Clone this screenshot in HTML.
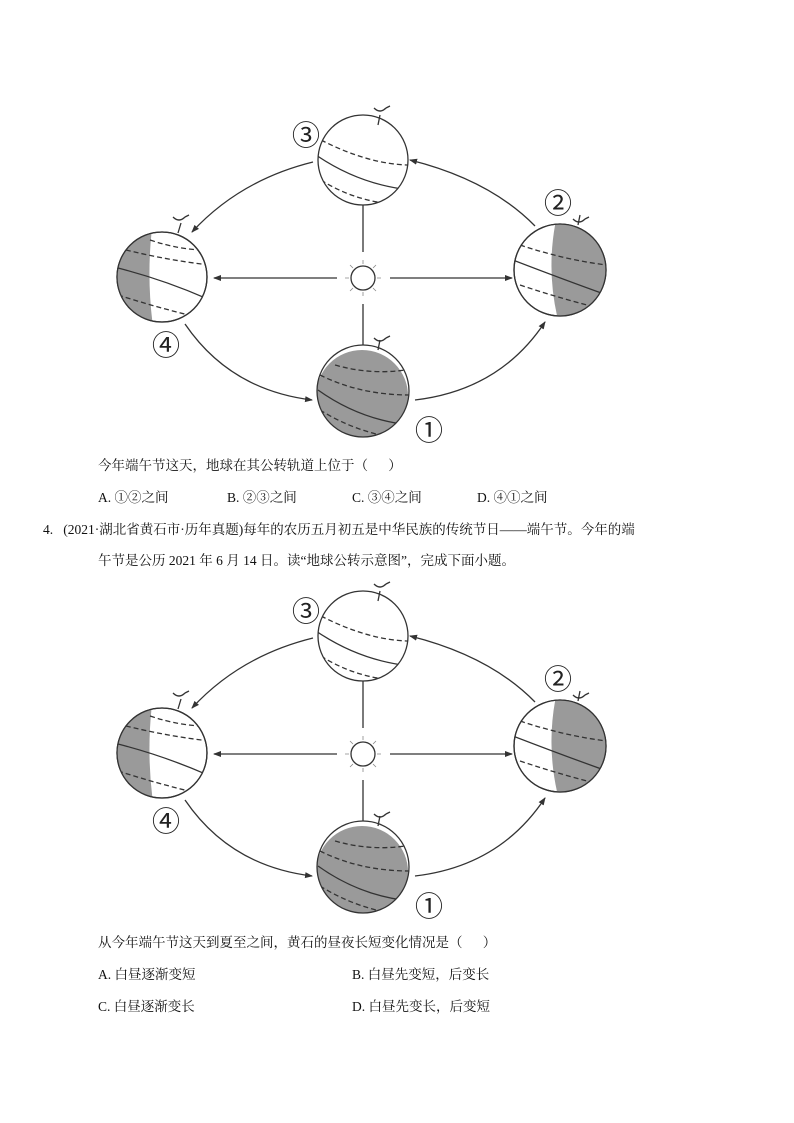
<!DOCTYPE html>
<html><head><meta charset="utf-8"><style>
body{margin:0;background:#fff;}
#p{position:relative;width:794px;height:1123px;overflow:hidden;font-family:"Liberation Serif","Noto Serif CJK SC","Noto Sans CJK SC",serif;font-size:13.5px;color:#111;}
.t{position:absolute;white-space:nowrap;line-height:16px;}
.dg{position:absolute;left:0;width:794px;height:480px;}
.n{font-family:"Liberation Serif","Noto Sans CJK SC",serif;font-size:28px;fill:#222;}
</style></head><body><div id="p">
<svg class="dg" style="top:0" width="794" height="480" viewBox="0 0 794 480">
<defs>
<marker id="ah" markerWidth="8" markerHeight="8" refX="7" refY="4" orient="auto" markerUnits="userSpaceOnUse"><path d="M0,1 L8,4 L0,7 Z" fill="#333"/></marker>
<clipPath id="c1"><circle cx="363" cy="391" r="46"/></clipPath>
<clipPath id="c2"><circle cx="560" cy="270" r="46"/></clipPath>
<clipPath id="c4"><circle cx="162" cy="277" r="45"/></clipPath>
<clipPath id="c3"><circle cx="363" cy="160" r="45"/></clipPath>
</defs>
<g stroke="#333" fill="none" stroke-width="1.3">
 <path d="M313,162 Q240,180 192,232" marker-end="url(#ah)"/>
 <path d="M535,226 Q490,180 410,160" marker-end="url(#ah)"/>
 <path d="M185,324 Q230,390 312,400" marker-end="url(#ah)"/>
 <path d="M415,400 Q500,390 545,322" marker-end="url(#ah)"/>
 <path d="M337,278 L214,278" marker-end="url(#ah)"/>
 <path d="M390,278 L512,278" marker-end="url(#ah)"/>
 <path d="M363,252 L363,183" marker-end="url(#ah)"/>
 <path d="M363,304 L363,345"/>
 <circle cx="363" cy="278" r="12" fill="#fff"/>
 <path stroke-width="0.8" stroke="#888" d="M363,260v4M363,292v4M345,278h4M377,278h4M350,265l3,3M376,265l-3,3M350,291l3,-3M376,291l-3,-3"/>
 <circle cx="363" cy="160" r="45" fill="#fff"/>
 <g clip-path="url(#c3)"><path d="M316,155 Q360,185 411,190"/><path d="M321,140 Q370,165 411,165" stroke-dasharray="5,3"/><path d="M321,180 Q360,205 411,205" stroke-dasharray="5,3"/></g>
 <path d="M378,125 l2,-10 M374,108 q6,6 12,0 M386,108 l4,-2"/>
 <circle cx="162" cy="277" r="45" fill="#fff"/>
 <g clip-path="url(#c4)"><path d="M110,220 L153,220 Q145,280 155,340 L110,340Z" fill="#9a9a9a" stroke="none"/>
 <path d="M118,268 Q165,280 210,300"/><path d="M118,248 Q165,260 210,265" stroke-dasharray="5,3"/><path d="M118,295 Q165,310 210,320" stroke-dasharray="5,3"/><path d="M150,240 Q180,250 205,250" stroke-dasharray="5,3"/></g>
 <circle cx="162" cy="277" r="45"/>
 <path d="M178,233 l3,-10 M173,217 q6,6 12,0 M185,217 l4,-2"/>
 <circle cx="560" cy="270" r="46" fill="#fff"/>
 <g clip-path="url(#c2)"><path d="M556,220 Q546,270 558,320 L610,320 L610,220Z" fill="#9a9a9a" stroke="none"/>
 <path d="M513,260 Q565,280 607,295"/><path d="M520,245 Q565,260 607,265" stroke-dasharray="5,3"/><path d="M520,285 Q565,300 607,310" stroke-dasharray="5,3"/></g>
 <circle cx="560" cy="270" r="46"/>
 <path d="M578,225 l2,-10 M573,219 q6,6 12,0 M585,219 l4,-2"/>
 <g clip-path="url(#c1)"><rect x="310" y="340" width="110" height="110" fill="#fff" stroke="none"/><circle cx="362" cy="396" r="46" fill="#9a9a9a" stroke="none"/>
 <path d="M318,390 Q360,420 410,425"/><path d="M320,375 Q360,395 410,395" stroke-dasharray="5,3"/><path d="M320,410 Q360,435 410,440" stroke-dasharray="5,3"/><path d="M335,365 Q370,375 405,370" stroke-dasharray="5,3"/></g>
 <circle cx="363" cy="391" r="46"/>
 <path d="M378,350 l2,-10 M374,338 q6,6 12,0 M386,338 l4,-2"/>
</g>
<g class="n"><text x="292" y="145">③</text><text x="544" y="213">②</text><text x="152" y="355">④</text><text x="415" y="440">①</text></g>
</svg>
<svg class="dg" style="top:476px" width="794" height="480" viewBox="0 0 794 480">
<defs>
<marker id="bh" markerWidth="8" markerHeight="8" refX="7" refY="4" orient="auto" markerUnits="userSpaceOnUse"><path d="M0,1 L8,4 L0,7 Z" fill="#333"/></marker>
<clipPath id="d1"><circle cx="363" cy="391" r="46"/></clipPath>
<clipPath id="d2"><circle cx="560" cy="270" r="46"/></clipPath>
<clipPath id="d4"><circle cx="162" cy="277" r="45"/></clipPath>
<clipPath id="d3"><circle cx="363" cy="160" r="45"/></clipPath>
</defs>
<g stroke="#333" fill="none" stroke-width="1.3">
 <path d="M313,162 Q240,180 192,232" marker-end="url(#bh)"/>
 <path d="M535,226 Q490,180 410,160" marker-end="url(#bh)"/>
 <path d="M185,324 Q230,390 312,400" marker-end="url(#bh)"/>
 <path d="M415,400 Q500,390 545,322" marker-end="url(#bh)"/>
 <path d="M337,278 L214,278" marker-end="url(#bh)"/>
 <path d="M390,278 L512,278" marker-end="url(#bh)"/>
 <path d="M363,252 L363,183" marker-end="url(#bh)"/>
 <path d="M363,304 L363,345"/>
 <circle cx="363" cy="278" r="12" fill="#fff"/>
 <path stroke-width="0.8" stroke="#888" d="M363,260v4M363,292v4M345,278h4M377,278h4M350,265l3,3M376,265l-3,3M350,291l3,-3M376,291l-3,-3"/>
 <circle cx="363" cy="160" r="45" fill="#fff"/>
 <g clip-path="url(#d3)"><path d="M316,155 Q360,185 411,190"/><path d="M321,140 Q370,165 411,165" stroke-dasharray="5,3"/><path d="M321,180 Q360,205 411,205" stroke-dasharray="5,3"/></g>
 <path d="M378,125 l2,-10 M374,108 q6,6 12,0 M386,108 l4,-2"/>
 <circle cx="162" cy="277" r="45" fill="#fff"/>
 <g clip-path="url(#d4)"><path d="M110,220 L153,220 Q145,280 155,340 L110,340Z" fill="#9a9a9a" stroke="none"/>
 <path d="M118,268 Q165,280 210,300"/><path d="M118,248 Q165,260 210,265" stroke-dasharray="5,3"/><path d="M118,295 Q165,310 210,320" stroke-dasharray="5,3"/><path d="M150,240 Q180,250 205,250" stroke-dasharray="5,3"/></g>
 <circle cx="162" cy="277" r="45"/>
 <path d="M178,233 l3,-10 M173,217 q6,6 12,0 M185,217 l4,-2"/>
 <circle cx="560" cy="270" r="46" fill="#fff"/>
 <g clip-path="url(#d2)"><path d="M556,220 Q546,270 558,320 L610,320 L610,220Z" fill="#9a9a9a" stroke="none"/>
 <path d="M513,260 Q565,280 607,295"/><path d="M520,245 Q565,260 607,265" stroke-dasharray="5,3"/><path d="M520,285 Q565,300 607,310" stroke-dasharray="5,3"/></g>
 <circle cx="560" cy="270" r="46"/>
 <path d="M578,225 l2,-10 M573,219 q6,6 12,0 M585,219 l4,-2"/>
 <g clip-path="url(#d1)"><rect x="310" y="340" width="110" height="110" fill="#fff" stroke="none"/><circle cx="362" cy="396" r="46" fill="#9a9a9a" stroke="none"/>
 <path d="M318,390 Q360,420 410,425"/><path d="M320,375 Q360,395 410,395" stroke-dasharray="5,3"/><path d="M320,410 Q360,435 410,440" stroke-dasharray="5,3"/><path d="M335,365 Q370,375 405,370" stroke-dasharray="5,3"/></g>
 <circle cx="363" cy="391" r="46"/>
 <path d="M378,350 l2,-10 M374,338 q6,6 12,0 M386,338 l4,-2"/>
</g>
<g class="n"><text x="292" y="145">③</text><text x="544" y="213">②</text><text x="152" y="355">④</text><text x="415" y="440">①</text></g>
</svg>
<div class="t" style="left:98px;top:458px">今年端午节这天，地球在其公转轨道上位于（&nbsp;&nbsp;&nbsp;&nbsp;&nbsp;&nbsp;）</div>
<div class="t" style="left:98px;top:490px">A. ①②之间</div>
<div class="t" style="left:227px;top:490px">B. ②③之间</div>
<div class="t" style="left:352px;top:490px">C. ③④之间</div>
<div class="t" style="left:477px;top:490px">D. ④①之间</div>
<div class="t" style="left:43px;top:522px">4.&nbsp;&nbsp;&nbsp;(2021·湖北省黄石市·历年真题)每年的农历五月初五是中华民族的传统节日——端午节。今年的端</div>
<div class="t" style="left:98px;top:553px">午节是公历 2021 年 6 月 14 日。读“地球公转示意图”，完成下面小题。</div>
<div class="t" style="left:98px;top:935px">从今年端午节这天到夏至之间，黄石的昼夜长短变化情况是（&nbsp;&nbsp;&nbsp;&nbsp;&nbsp;&nbsp;）</div>
<div class="t" style="left:98px;top:967px">A. 白昼逐渐变短</div>
<div class="t" style="left:352px;top:967px">B. 白昼先变短，后变长</div>
<div class="t" style="left:98px;top:999px">C. 白昼逐渐变长</div>
<div class="t" style="left:352px;top:999px">D. 白昼先变长，后变短</div>
</div></body></html>
